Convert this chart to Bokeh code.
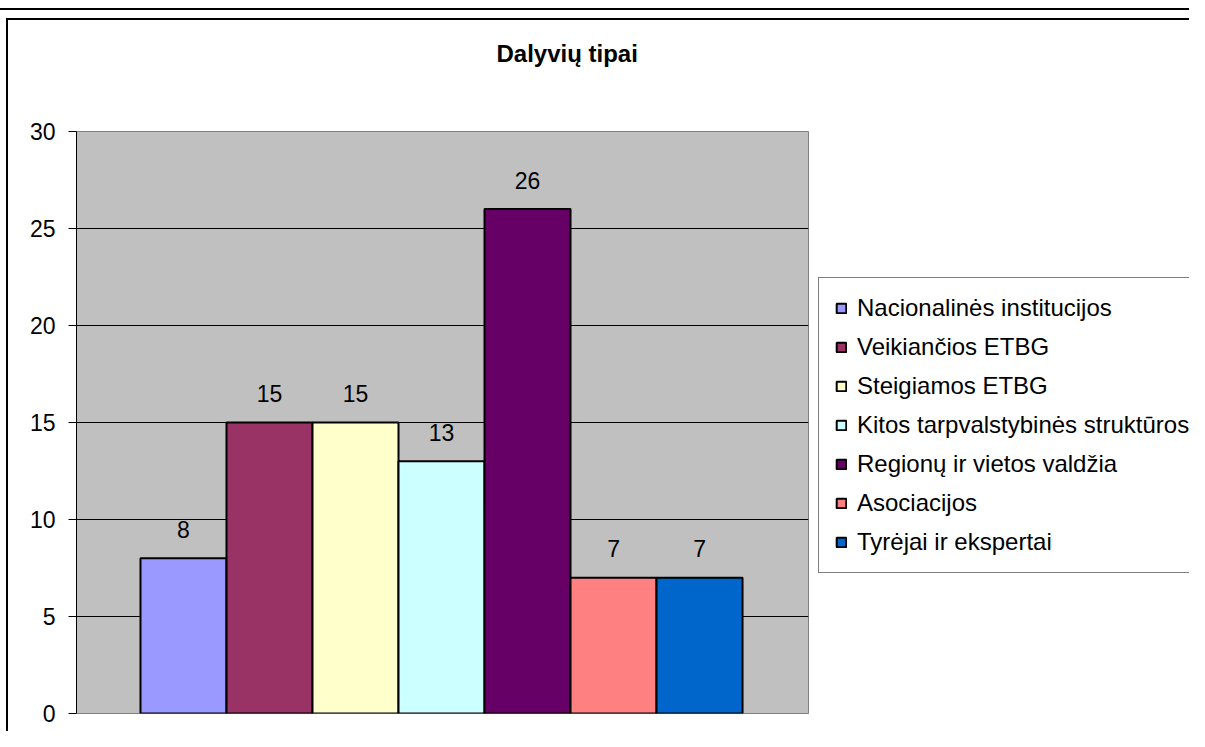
from bokeh.plotting import figure
from bokeh.layouts import row
from bokeh.models import (Range1d, ColumnDataSource, Legend, LegendItem,
                          FixedTicker, InlineStyleSheet)
from bokeh.embed import file_html
from bokeh.resources import INLINE
from bokeh.core.properties import value

# ---- data ----
title_text = "Dalyvių tipai"
categories = ["Nacionalinės institucijos", "Veikiančios ETBG", "Steigiamos ETBG",
              "Kitos tarpvalstybinės struktūros", "Regionų ir vietos valdžia",
              "Asociacijos", "Tyrėjai ir ekspertai"]
counts = [8, 15, 15, 13, 26, 7, 7]
colors = ["#9999FF", "#993366", "#FFFFCC", "#CCFFFF", "#660066", "#FF8080", "#0066CC"]
y_ticks = [0, 5, 10, 15, 20, 25, 30]

FONT = "Liberation Sans"

css1 = """
:host { position: relative; }
:host::before { content: ""; position: absolute; left: 0; top: 8px; width: 100%;
  height: 0; border-top: 2px solid black; z-index: 20; pointer-events: none; }
:host::after { content: ""; position: absolute; left: 6px; top: 18px;
  width: calc(100% - 6px); height: calc(100% - 18px); border-left: 2px solid black;
  border-top: 2px solid black; z-index: 20; pointer-events: none; box-sizing: border-box; }
"""
css2 = """
:host { position: relative; }
:host::before { content: ""; position: absolute; left: 0; top: 8px; width: 100%;
  height: 0; border-top: 2px solid black; z-index: 20; pointer-events: none; }
:host::after { content: ""; position: absolute; left: 0; top: 18px; width: 100%;
  height: 0; border-top: 2px solid black; z-index: 20; pointer-events: none; }
"""

p = figure(width=818, height=731, output_backend="svg", toolbar_location=None,
           x_range=Range1d(-1.244, 7.267), y_range=Range1d(0, 30),
           min_border_left=76, min_border_top=131, min_border_right=10,
           min_border_bottom=18, stylesheets=[InlineStyleSheet(css=css1)])
p.background_fill_color = "#C0C0C0"
p.border_fill_color = "white"
p.outline_line_color = "#808080"
p.outline_line_width = 1

# title (second, blank line gives room to lift the text up)
p.title.text = title_text + "\n "
p.title.text_font = FONT
p.title.text_font_size = "24px"
p.title.text_font_style = "bold"
p.title.text_color = "black"
p.title.align = "left"
p.title.offset = 420
p.title.vertical_align = "top"
p.title.standoff = 72

# axes
p.xaxis.visible = False
ya = p.yaxis[0]
ya.ticker = FixedTicker(ticks=y_ticks)
ya.axis_line_color = "black"
ya.axis_line_width = 1
ya.major_tick_line_color = "black"
ya.major_tick_out = 8
ya.major_tick_in = 0
ya.minor_tick_line_color = None
ya.major_label_text_font = FONT
ya.major_label_text_font_size = "23px"
ya.major_label_text_color = "black"
ya.major_label_standoff = 13

p.xgrid.visible = False
p.ygrid.grid_line_color = "black"
p.ygrid.grid_line_width = 1
p.ygrid.ticker = FixedTicker(ticks=y_ticks[1:-1])

# legend-only figure; its ranges put the (hidden) swatch bars behind the legend box
q = figure(width=371, height=731, output_backend="svg", toolbar_location=None,
           x_range=Range1d(-10, 30), y_range=Range1d(-20, 60),
           min_border_left=0, min_border_top=0, min_border_right=0,
           min_border_bottom=0, stylesheets=[InlineStyleSheet(css=css2)])
q.axis.visible = False
q.grid.visible = False
q.outline_line_color = None
q.background_fill_color = "white"
q.border_fill_color = "white"

xs = list(range(len(categories)))
items = []
for i, (name, v, c) in enumerate(zip(categories, counts, colors)):
    src = ColumnDataSource(dict(x=[xs[i]], top=[v], lab=[str(v)]))
    p.vbar(x="x", top="top", width=1.0, bottom=0, source=src,
           fill_color=c, line_color="black", line_width=2)
    p.text(x="x", y="top", text="lab", source=src, text_align="center",
           text_baseline="alphabetic", y_offset=-29, text_font=value(FONT),
           text_font_size="23px", text_color="black")
    lr = q.vbar(x="x", top="top", width=1.0, bottom=0, source=src, visible=False,
                fill_color=c, line_color="black", line_width=2)
    items.append(LegendItem(label=name, renderers=[lr]))

legend = Legend(items=items, location=(0, 140), orientation="vertical",
                label_text_font=FONT, label_text_font_size="24px",
                label_text_color="black", glyph_width=12, glyph_height=12,
                label_standoff=10, label_height=25, spacing=11, padding=16,
                margin=0, border_line_color="black", border_line_width=1,
                background_fill_color="white", background_fill_alpha=1.0,
                inactive_fill_alpha=0.0, click_policy="none")
q.add_layout(legend, "center")

layout = row(p, q, spacing=0)
open("out.html", "w").write(file_html(layout, INLINE))
